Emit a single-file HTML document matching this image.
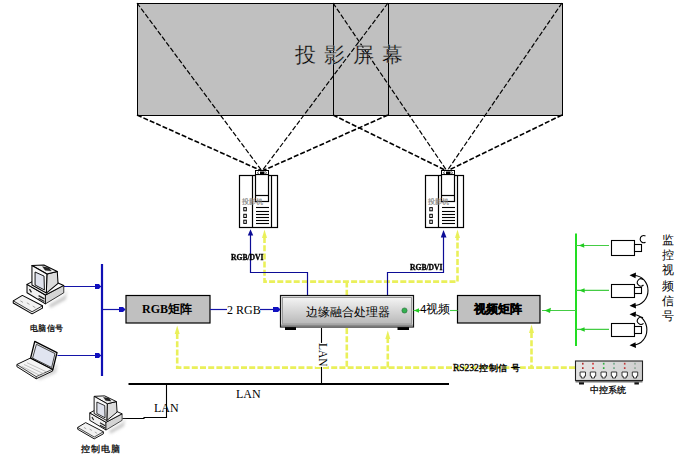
<!DOCTYPE html>
<html><head><meta charset="utf-8">
<style>
html,body{margin:0;padding:0;background:#fff;}
body{width:697px;height:462px;overflow:hidden;position:relative;font-family:"Liberation Sans",sans-serif;}
svg{position:absolute;left:0;top:0;}
.t{position:absolute;white-space:nowrap;line-height:1;}
</style></head><body>
<svg width="697" height="462" viewBox="0 0 697 462">
<defs>
<linearGradient id="pg" x1="0" y1="0" x2="0" y2="1">
<stop offset="0" stop-color="#f4f4f4"/><stop offset="1" stop-color="#b8b8b8"/>
</linearGradient>
</defs>
<!-- screens -->
<rect x="137.5" y="3.5" width="251" height="112" fill="#c0c0c0"/>
<rect x="333.5" y="3.5" width="229" height="112" fill="#c0c0c0"/>
<rect x="137.5" y="3.5" width="251" height="112" fill="none" stroke="#000" stroke-width="1"/>
<rect x="333.5" y="3.5" width="229" height="112" fill="none" stroke="#000" stroke-width="1"/>
<!-- projection dashed lines -->
<g stroke="#000" stroke-width="1.2" stroke-dasharray="5 2" fill="none">
<line x1="137" y1="3" x2="262" y2="171"/>
<line x1="388" y1="3" x2="262" y2="171"/>
<line x1="333" y1="3" x2="447" y2="171"/>
<line x1="562" y1="3" x2="447" y2="171"/>
</g>
<g stroke="#000" stroke-width="1.6" stroke-dasharray="5 2" fill="none">
<line x1="137" y1="115" x2="262" y2="171"/>
<line x1="388" y1="115" x2="262" y2="171"/>
<line x1="333" y1="115" x2="447" y2="171"/>
<line x1="562" y1="115" x2="447" y2="171"/>
</g>

<g id="proj">
<rect x="239.5" y="175.5" width="38" height="52" fill="#fff" stroke="#000" stroke-width="1.2"/>
<line x1="252.5" y1="175" x2="252.5" y2="227.5" stroke="#000" stroke-width="1.2"/>
<line x1="271.5" y1="175" x2="271.5" y2="227.5" stroke="#000" stroke-width="1.2"/>
<rect x="255.5" y="174.5" width="13" height="27" fill="#fff" stroke="#000" stroke-width="1.2"/>
<line x1="255.5" y1="195.5" x2="268.5" y2="195.5" stroke="#000" stroke-width="1.2"/>
<rect x="255.5" y="170.5" width="13" height="4" fill="#fff" stroke="#000" stroke-width="1"/>
<rect x="260" y="171.5" width="4.5" height="3" fill="#000"/>
<path d="M258.5,171.5 Q256.8,172.8 258.5,174 M265.5,171.5 Q267.2,172.8 265.5,174" stroke="#000" stroke-width="0.8" fill="none"/>
<g fill="none" stroke="#000" stroke-width="1">
<rect x="243.8" y="207.6" width="2.5" height="3.2"/>
<rect x="243.8" y="214.3" width="2.5" height="3.2"/>
<rect x="243.8" y="220.2" width="2.5" height="3.2"/>
</g>
<g stroke="#000" stroke-width="1.1">
<line x1="256" y1="207.5" x2="269" y2="207.5"/>
<line x1="256" y1="211.5" x2="269" y2="211.5"/>
<line x1="256" y1="214.5" x2="269" y2="214.5"/>
<line x1="256" y1="217.5" x2="269" y2="217.5"/>
<line x1="256" y1="220.5" x2="269" y2="220.5"/>
<line x1="256" y1="223.5" x2="269" y2="223.5"/>
</g>
<text x="242" y="204.3" font-size="7" fill="#6a6a6a" font-family="Liberation Sans" stroke="#999" stroke-width="0.2">投影机</text>
</g>
<use href="#proj" transform="translate(186,0)"/>

<!-- yellow dashed control lines -->
<g stroke="#eaf05a" stroke-width="2.6" stroke-dasharray="6 2.2" fill="none">
<polyline points="264.5,237 264.5,281.6 457.5,281.6 457.5,237"/>
<line x1="346.8" y1="281.6" x2="346.8" y2="295"/>
<polyline points="177.2,333 177.2,367.6 575,367.6"/>
<line x1="346.8" y1="328" x2="346.8" y2="367.6"/>
<line x1="387.8" y1="337" x2="387.8" y2="367.6"/>
<line x1="531.5" y1="332" x2="531.5" y2="367.6"/>
</g>
<g fill="#eaf05a">
<polygon points="264.5,229.5 262,238 267,238"/>
<polygon points="457.5,229.5 455,238 460,238"/>
<polygon points="177.2,325.5 174.7,334 179.7,334"/>
<polygon points="387.8,330.5 385.3,339 390.3,339"/>
<polygon points="531.5,324.5 529,333 534,333"/>
</g>
<!-- blue lines to projectors -->
<g stroke="#0c0c96" stroke-width="1.2" fill="none">
<polyline points="250.5,233 250.5,272.5 307.5,272.5 307.5,295"/>
<polyline points="387.5,295 387.5,272.5 443.5,272.5 443.5,233"/>
</g>
<g fill="#0c0c96">
<polygon points="250.5,229.3 247.8,235.5 253.2,235.5"/>
<polygon points="443.5,230 440.8,237.5 446.5,237.5"/>
</g>
<!-- processor -->
<rect x="285" y="326" width="11" height="4" fill="#000"/>
<rect x="397.5" y="326" width="11.5" height="4" fill="#000"/>
<rect x="280.5" y="295.5" width="133" height="31.5" fill="#e8e8e8" stroke="#111" stroke-width="1.2"/>
<rect x="282.5" y="297.5" width="129" height="26.5" fill="url(#pg)" stroke="#9a9a9a" stroke-width="1"/>
<rect x="281.2" y="324.5" width="131.6" height="2" fill="#8a8a8a"/>
<circle cx="404.5" cy="310.5" r="2.6" fill="#33b050" stroke="#2a6a3a" stroke-width="0.6"/>
<!-- RGB matrix & video matrix -->
<rect x="126" y="295.5" width="84" height="27.5" fill="#c0c0c0" stroke="#000" stroke-width="1.2"/>
<rect x="457.5" y="295.5" width="82.5" height="27.5" fill="#c0c0c0" stroke="#000" stroke-width="1.2"/>
<!-- blue bus -->
<line x1="102" y1="264" x2="102" y2="376" stroke="#1010b4" stroke-width="2.2"/>
<g stroke="#1414a8" stroke-width="1.2">
<line x1="63.5" y1="286.5" x2="102" y2="286.5"/>
<line x1="57.5" y1="355.5" x2="102" y2="355.5"/>
<line x1="102" y1="309.5" x2="125" y2="309.5"/>
<line x1="210" y1="309.5" x2="227" y2="309.5"/>
<line x1="260" y1="309.5" x2="280" y2="309.5"/>
</g>
<g fill="#1010c0">
<polygon points="95,284 99,284 101,286.5 99,289 95,289"/>
<polygon points="95,353 99,353 101,355.5 99,358 95,358"/>
<polygon points="119,307 123,307 125.5,309.5 123,312 119,312"/>
<polygon points="273,307 278,307 280.5,309.5 278,312 273,312"/>
</g>
<!-- green -->
<line x1="576" y1="233.5" x2="576" y2="346" stroke="#22dd22" stroke-width="2"/>
<g stroke="#44cc44" stroke-width="1.1">
<line x1="576" y1="245.5" x2="609" y2="245.5"/>
<line x1="576" y1="290.4" x2="609" y2="290.4"/>
<line x1="576" y1="329.4" x2="609" y2="329.4"/>
<line x1="542" y1="310.5" x2="576" y2="310.5"/>
<line x1="413.5" y1="310.5" x2="420" y2="310.5"/>
<line x1="450" y1="310.5" x2="457.5" y2="310.5"/>
</g>
<g fill="#22cc22">
<polygon points="544.5,310.5 551,307.8 550,313"/>
<polygon points="414,310.5 419,308.3 419,312.7"/>
<polygon points="578.8,245.5 584,243.3 584.3,247.8"/>
<polygon points="579.3,290.4 584.5,288.2 584.8,292.7"/>
<polygon points="579.3,329.4 584.5,327.2 584.8,331.7"/>
</g>
<!-- cameras -->
<g fill="#fff" stroke="#000" stroke-width="1.1">
<rect x="611.5" y="240.5" width="23" height="15"/>
<rect x="634.5" y="244.5" width="7" height="7"/>
<rect x="611.5" y="284.5" width="23" height="13"/>
<rect x="634.5" y="287.5" width="7" height="6"/>
<rect x="611.5" y="323.5" width="23" height="13"/>
<rect x="634.5" y="326.5" width="7" height="7"/>
</g>
<g fill="none" stroke="#000" stroke-width="1.1">
<path d="M645.5,236 A3.6,3.6 0 1 0 645.5,242.3"/>
<path d="M643,279.5 A3.6,3.6 0 1 0 643.5,285"/>
<path d="M634,275.5 A14,15 0 0 1 634,305.5"/>
<path d="M643,317.8 A3.6,3.6 0 1 0 643.5,323.3"/>
<path d="M634,314.5 A14,15.3 0 0 1 634,345"/>
</g>
<g fill="#000">
<polygon points="629.5,275.3 636,272.6 635.5,278.3"/>
<polygon points="629.5,305.7 635.5,302.7 636,308.4"/>
<polygon points="629.5,314.3 636,311.6 635.5,317.3"/>
<polygon points="629.5,345.2 635.5,342.2 636,347.9"/>
</g>
<!-- LAN -->
<g stroke="#000" fill="none">
<line x1="128.5" y1="384" x2="449" y2="384" stroke-width="2"/>
<line x1="321.5" y1="328" x2="321.5" y2="384" stroke-width="1.1"/>
<polyline points="122.5,418.5 144,418.5 144,417.5 166.5,417.5 166.5,384" stroke-width="1.1"/>
</g>
<!-- central control -->
<defs><linearGradient id="cg" x1="0" y1="0" x2="1" y2="0"><stop offset="0" stop-color="#e4e4e4"/><stop offset="1" stop-color="#cfcfcf"/></linearGradient></defs>
<rect x="579" y="381" width="5" height="3.5" fill="#111"/>
<rect x="634.4" y="381" width="4.5" height="3.5" fill="#111"/>
<rect x="575.5" y="380" width="67" height="2.5" fill="#777"/>
<rect x="575.5" y="361" width="67" height="19.5" fill="url(#cg)" stroke="#222" stroke-width="1.1"/>
<path d="M580.0999999999999,372 h5.4 v4.2 h-1.2 v1.8 h-3 v-1.8 h-1.2 z" fill="#fff" stroke="#222" stroke-width="0.9"/><path d="M590.3,372 h5.4 v4.2 h-1.2 v1.8 h-3 v-1.8 h-1.2 z" fill="#fff" stroke="#222" stroke-width="0.9"/><path d="M601.0,372 h5.4 v4.2 h-1.2 v1.8 h-3 v-1.8 h-1.2 z" fill="#fff" stroke="#222" stroke-width="0.9"/><path d="M611.3,372 h5.4 v4.2 h-1.2 v1.8 h-3 v-1.8 h-1.2 z" fill="#fff" stroke="#222" stroke-width="0.9"/><path d="M622.0,372 h5.4 v4.2 h-1.2 v1.8 h-3 v-1.8 h-1.2 z" fill="#fff" stroke="#222" stroke-width="0.9"/><path d="M632.3,372 h5.4 v4.2 h-1.2 v1.8 h-3 v-1.8 h-1.2 z" fill="#fff" stroke="#222" stroke-width="0.9"/><rect x="582.0" y="362.8" width="1.6" height="1.8" fill="#b03030"/><rect x="582.0" y="367.2" width="1.6" height="1.8" fill="#b03030"/><rect x="592.2" y="362.8" width="1.6" height="1.8" fill="#d03030"/><rect x="592.2" y="367.2" width="1.6" height="1.8" fill="#d03030"/><rect x="602.9000000000001" y="362.8" width="1.6" height="1.8" fill="#30b040"/><rect x="602.9000000000001" y="367.2" width="1.6" height="1.8" fill="#30b040"/><rect x="613.2" y="362.8" width="1.6" height="1.8" fill="#70a888"/><rect x="613.2" y="367.2" width="1.6" height="1.8" fill="#70a888"/><rect x="623.9000000000001" y="362.8" width="1.6" height="1.8" fill="#c03a3a"/><rect x="623.9000000000001" y="367.2" width="1.6" height="1.8" fill="#c03a3a"/><rect x="634.2" y="362.8" width="1.6" height="1.8" fill="#90a898"/><rect x="634.2" y="367.2" width="1.6" height="1.8" fill="#90a898"/>
<defs>
<filter id="blur" x="-50%" y="-50%" width="200%" height="200%"><feGaussianBlur stdDeviation="14"/></filter>
<g id="pc" stroke="#000" stroke-width="8" stroke-linejoin="round">
<polygon points="300,360 420,290 440,240 430,320 310,385" fill="#c8c8c8" stroke="none" filter="url(#blur)"/>
<polygon points="95,288 250,368 250,386 170,430 25,346 25,330" fill="#f2f2f2"/>
<polyline points="25,330 170,414 250,368" fill="none" stroke-width="6"/>
<g stroke="#999" stroke-width="7">
<line x1="80" y1="330" x2="100" y2="342"/><line x1="130" y1="345" x2="150" y2="357"/><line x1="175" y1="370" x2="195" y2="382"/>
</g>
<polygon points="131,203 273,285 273,353 131,268" fill="#f0f0f0"/>
<polygon points="273,285 414,211 414,268 273,353" fill="#d4d4d4" stroke-width="6"/>
<polygon points="131,203 250,140 414,211 273,285" fill="#fafafa"/>
<g stroke="#222" stroke-width="10"><line x1="150" y1="240" x2="165" y2="265"/><line x1="220" y1="290" x2="265" y2="315"/><line x1="220" y1="310" x2="265" y2="335"/></g>
<polygon points="284,123 364,104 370,196 280,270" fill="#dcdcdc"/>
<polygon points="169,58 261,54 364,104 284,123" fill="#f2f2f2"/>
<polygon points="250,66 300,75 318,100 270,95" fill="#222" stroke-width="2"/>
<polygon points="169,58 284,123 280,270 169,208" fill="#f8f8f8"/>
<polygon points="193,108 262,139 265,246 193,208" fill="#dfe2ec" stroke-width="7"/>
</g>
<g id="laptop" stroke="#000" stroke-linejoin="round">
<polygon points="270,400 400,340 440,270 430,360 290,420" fill="#d0d0d0" stroke="none" filter="url(#blur)"/>
<polygon points="100,290 215,235 400,330 400,345 262,410 100,308" fill="#f4f4f4" stroke-width="8"/>
<polyline points="100,290 262,392 400,330" fill="none" stroke-width="6"/>
<polyline points="262,392 262,410" fill="none" stroke-width="6"/>
<g stroke="#aaa" stroke-width="6">
<line x1="160" y1="290" x2="330" y2="370"/><line x1="185" y1="275" x2="345" y2="350"/><line x1="140" y1="305" x2="300" y2="385"/>
</g>
<polygon points="250,95 437,190 402,332 215,237" fill="#f4f4f4" stroke-width="11"/>
<polygon points="264,120 420,198 392,315 232,236" fill="#e0e4f0" stroke-width="6"/>
</g>
</defs>
<use href="#pc" transform="translate(10,258) scale(0.12987)"/>
<use href="#pc" transform="translate(74.8,389.7) scale(0.1143)"/>
<use href="#laptop" transform="translate(5,330) scale(0.119)"/>
</svg>
<div class="t" style="left:295px;top:44px;font-size:21px;letter-spacing:8px;-webkit-text-stroke:0.3px #c0c0c0;color:#000;">投影屏幕</div>
<div class="t" style="left:305.5px;top:306px;font-size:12px;">边缘融合处理器</div>
<div class="t" style="left:142px;top:303px;font-size:12px;font-weight:bold;font-family:'Liberation Serif';">RGB矩阵</div>
<div class="t" style="left:473.5px;top:302.5px;font-size:12px;font-weight:bold;-webkit-text-stroke:0.3px #000;">视频矩阵</div>
<div class="t" style="left:227px;top:304px;font-size:12px;font-family:'Liberation Serif';">2 RGB</div>
<div class="t" style="left:420px;top:304px;font-size:11.5px;">4视频</div>
<div class="t" style="left:236px;top:388px;font-size:12px;font-family:'Liberation Serif';">LAN</div>
<div class="t" style="left:154px;top:402px;font-size:12px;font-family:'Liberation Serif';">LAN</div>
<div class="t" style="left:30px;top:324.5px;font-size:8px;letter-spacing:0.3px;-webkit-text-stroke:0.25px #000;">电脑信号</div>
<div class="t" style="left:81px;top:444.5px;font-size:9px;letter-spacing:1px;-webkit-text-stroke:0.25px #000;">控制电脑</div>
<div class="t" style="left:590px;top:386px;font-size:9px;-webkit-text-stroke:0.25px #000;">中控系统</div>
<div class="t" style="left:453px;top:363.5px;font-size:9px;font-weight:bold;"><span style="font-family:'Liberation Serif';font-size:9.5px;font-weight:normal;-webkit-text-stroke:0.3px #000;">RS232</span><span style="letter-spacing:0.8px">控制信</span><span style="margin-left:2.5px">号</span></div>
<div class="t" style="left:231px;top:253.5px;font-size:8px;font-weight:bold;font-family:'Liberation Serif';-webkit-text-stroke:0.35px #000;transform-origin:0 0;transform:scaleX(0.95);">RGB/DVI</div>
<div class="t" style="left:410px;top:263.5px;font-size:8px;font-weight:bold;font-family:'Liberation Serif';-webkit-text-stroke:0.35px #000;transform-origin:0 0;transform:scaleX(0.95);">RGB/DVI</div>
<div class="t" style="left:661.5px;top:233px;font-size:12px;width:13px;white-space:normal;line-height:15.2px;">监控视频信号</div>
<div class="t" style="left:309.5px;top:349px;font-size:11.5px;font-family:'Liberation Serif';transform:rotate(90deg);background:#fff;">LAN</div>
</body></html>
